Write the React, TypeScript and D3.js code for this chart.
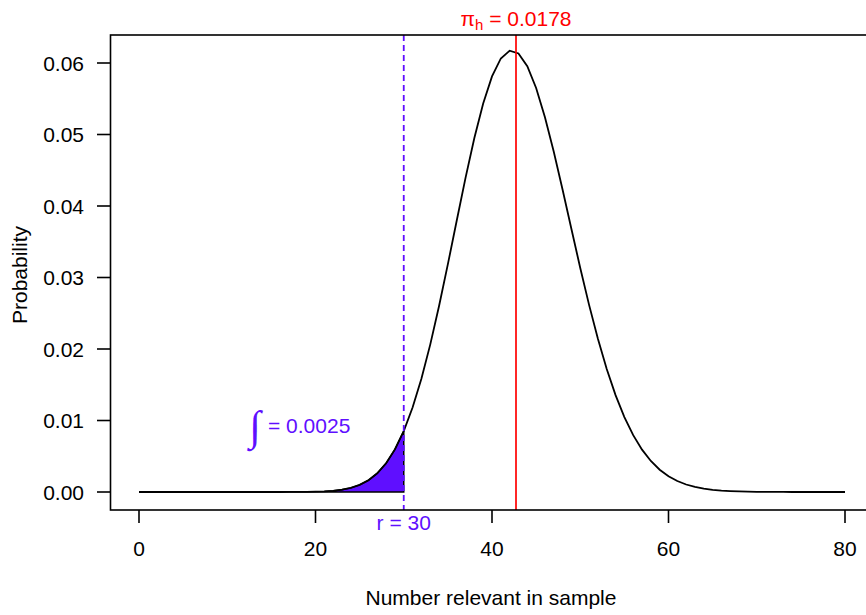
import React from "react";
import * as d3 from "d3";

const counts: number[] = Array.from({ length: 81 }, (_, i) => i);
const probs: number[] = [
  0, 0, 0, 0, 0, 0, 0, 0, 0, 0,
  0, 0, 0, 0, 0.0000001, 0.0000005, 0.0000014, 0.0000036, 0.0000087, 0.0000197,
  0.0000425, 0.0000873, 0.000171, 0.00032, 0.000575, 0.000991, 0.001641, 0.002615, 0.004016, 0.005953,
  0.008527, 0.011815, 0.015852, 0.020615, 0.026009, 0.031864, 0.037937, 0.043928, 0.049505, 0.054337,
  0.058125, 0.060634, 0.06172, 0.061338, 0.059548, 0.056502, 0.052424, 0.047585, 0.042275, 0.036775,
  0.031337, 0.026169, 0.021424, 0.017201, 0.013549, 0.010474, 0.007949, 0.005924, 0.004337, 0.00312,
  0.002206, 0.001534, 0.001049, 0.000705, 0.000467, 0.000304, 0.000195, 0.000123, 0.0000765, 0.0000469,
  0.0000283, 0.0000168, 0.0000099, 0.0000057, 0.0000033, 0.0000018, 0.000001, 0.0000006, 0.0000003, 0.0000002,
  0.0000001,
];
const xTicks: number[] = [0, 20, 40, 60, 80];
const yTicks: number[] = [0, 0.01, 0.02, 0.03, 0.04, 0.05, 0.06];
const rValue = 30;
const piMean = 42.72;
const piLabel = "0.0178";
const integralLabel = "0.0025";

const PURPLE = "#5F0FFF";
const RED = "#FF0000";
const FONT = "'Liberation Sans', Arial, Helvetica, sans-serif";
const FS = 21;

export default function App() {
  const x = d3.scaleLinear().domain([0, 80]).range([139, 845]);
  const y = d3.scaleLinear().domain([0, 0.06]).range([492, 63]);
  const top = 35;
  const bottom = 510;
  const left = 110.5;
  const right = 873;

  const pts: [number, number][] = counts.map((c, i) => [c, probs[i]]);
  const line = d3
    .line<[number, number]>()
    .x((d) => x(d[0]))
    .y((d) => y(d[1]));
  const shadePts: [number, number][] = pts.filter((d) => d[0] <= rValue);
  shadePts.push([rValue, 0]);
  const shadePath = line(shadePts) + "Z";

  return (
    <svg
      width={866}
      height={615}
      style={{ position: "absolute", left: 0, top: 0, background: "#fff" }}
      fontFamily={FONT}
    >
      <rect x={0} y={0} width={866} height={615} fill="#fff" />
      <path d={shadePath} fill={PURPLE} stroke="#000" strokeWidth={1.5} />
      <path d={line(pts) || ""} fill="none" stroke="#000" strokeWidth={1.8} />
      <line
        x1={x(rValue)}
        x2={x(rValue)}
        y1={top}
        y2={bottom}
        stroke={PURPLE}
        strokeWidth={1.8}
        strokeDasharray="6,4"
      />
      <line x1={x(piMean)} x2={x(piMean)} y1={top} y2={bottom} stroke={RED} strokeWidth={1.7} />
      <rect x={left} y={top} width={right - left} height={bottom - top} fill="none" stroke="#000" strokeWidth={1.6} />
      {yTicks.map((t) => (
        <g key={"y" + t}>
          <line x1={97} x2={left} y1={y(t)} y2={y(t)} stroke="#000" strokeWidth={1.6} />
          <text x={84} y={y(t) + 7.5} textAnchor="end" fontSize={FS} fill="#000">
            {t.toFixed(2)}
          </text>
        </g>
      ))}
      {xTicks.map((t) => (
        <g key={"x" + t}>
          <line x1={x(t)} x2={x(t)} y1={bottom} y2={523} stroke="#000" strokeWidth={1.6} />
          <text x={x(t)} y={556} textAnchor="middle" fontSize={FS} fill="#000">
            {t}
          </text>
        </g>
      ))}
      <text x={491} y={605} textAnchor="middle" fontSize={FS} fill="#000">
        Number relevant in sample
      </text>
      <text transform="translate(27,275) rotate(-90)" textAnchor="middle" fontSize={FS} fill="#000">
        Probability
      </text>
      <text x={x(piMean)} y={26} textAnchor="middle" fontSize={FS} fill={RED}>
        <tspan>π</tspan>
        <tspan fontSize={15} dy={4}>h</tspan>
        <tspan dy={-4}>{" = " + piLabel}</tspan>
      </text>
      <text x={x(rValue)} y={530} textAnchor="middle" fontSize={FS} fill={PURPLE}>
        {"r = " + rValue}
      </text>
      <text x={255} y={440} textAnchor="middle" fontSize={42} fill={PURPLE} fontFamily="'Liberation Serif', serif">
        ∫
      </text>
      <text x={268} y={433} textAnchor="start" fontSize={FS} fill={PURPLE}>
        {"= " + integralLabel}
      </text>
    </svg>
  );
}
